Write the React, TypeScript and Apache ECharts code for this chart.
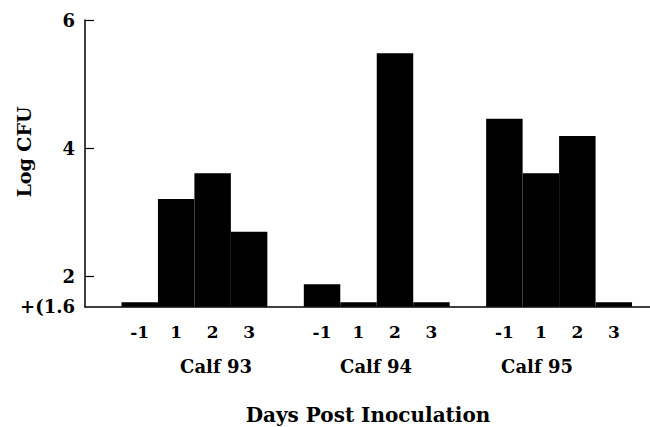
import React, { useEffect, useRef } from "react";
import * as echarts from "echarts";

const days = ["-1", "1", "2", "3"];
const calfNames = ["Calf 93", "Calf 94", "Calf 95"];
const calf93 = [1.6, 3.21, 3.61, 2.7];
const calf94 = [1.88, 1.6, 5.48, 1.6];
const calf95 = [4.46, 3.61, 4.19, 1.6];
const yTicks = [2, 4, 6];
const yMin = 1.53;
const yMax = 6;
const yMinLabel = "+(1.6";
const xTitle = "Days Post Inoculation";
const yTitle = "Log CFU";

const FONT = "DejaVu Serif";

export default function App() {
  const ref = useRef<HTMLDivElement>(null);
  useEffect(() => {
    document.body.style.margin = "0";
    if (!ref.current) return;
    const chart = echarts.init(ref.current, undefined, { renderer: "svg" });

    const groups = [calf93, calf94, calf95];
    const cats: string[] = [""];
    const vals: (number | null)[] = [null];
    groups.forEach((g) => {
      g.forEach((v, i) => {
        cats.push(days[i]);
        vals.push(v);
      });
      cats.push("");
      vals.push(null);
    });

    const labelXs = [216, 376, 537];

    chart.setOption({
      animation: false,
      backgroundColor: "#fff",
      grid: {
        left: 85,
        width: 583.5,
        top: 20,
        bottom: 120.3,
        containLabel: false,
        outerBoundsMode: "none",
      },
      xAxis: {
        type: "category",
        data: cats,
        axisLine: { lineStyle: { color: "#000", width: 1.5 } },
        axisTick: { show: false },
        axisLabel: {
          interval: 0,
          color: "#000",
          fontFamily: FONT,
          fontWeight: "bold",
          fontSize: 17,
          margin: 17,
        },
      },
      yAxis: {
        type: "value",
        min: yMin,
        max: yMax,
        splitLine: { show: false },
        axisLine: { show: true, lineStyle: { color: "#000", width: 1.5 } },
        axisTick: {
          show: true,
          inside: true,
          length: 9,
          customValues: yTicks,
          lineStyle: { color: "#000", width: 1.2 },
        },
        axisLabel: {
          customValues: [yMin, ...yTicks],
          color: "#000",
          fontFamily: FONT,
          fontWeight: "bold",
          fontSize: 18,
          margin: 10,
          padding: [6, 0, 0, 0],
          formatter: (v: number) => (v < 1.9 ? yMinLabel : String(v)),
        },
      },
      series: [
        {
          type: "bar",
          data: vals,
          barWidth: "100%",
          barCategoryGap: "0%",
          itemStyle: { color: "#000" },
          clip: true,
        },
      ],
      graphic: [
        ...calfNames.map((n, i) => ({
          type: "text",
          x: labelXs[i],
          y: 366,
          style: {
            text: n,
            fill: "#000",
            font: `bold 18px "${FONT}"`,
            align: "center",
            verticalAlign: "middle",
          },
        })),
        {
          type: "text",
          x: 368,
          y: 415,
          style: {
            text: xTitle,
            fill: "#000",
            font: `bold 20px "${FONT}"`,
            align: "center",
            verticalAlign: "middle",
          },
        },
        {
          type: "text",
          x: 24,
          y: 152,
          rotation: Math.PI / 2,
          style: {
            text: yTitle,
            fill: "#000",
            font: `bold 19px "${FONT}"`,
            align: "center",
            verticalAlign: "middle",
          },
        },
      ],
    });
    return () => chart.dispose();
  }, []);
  return <div ref={ref} style={{ width: 650, height: 427 }} />;
}
